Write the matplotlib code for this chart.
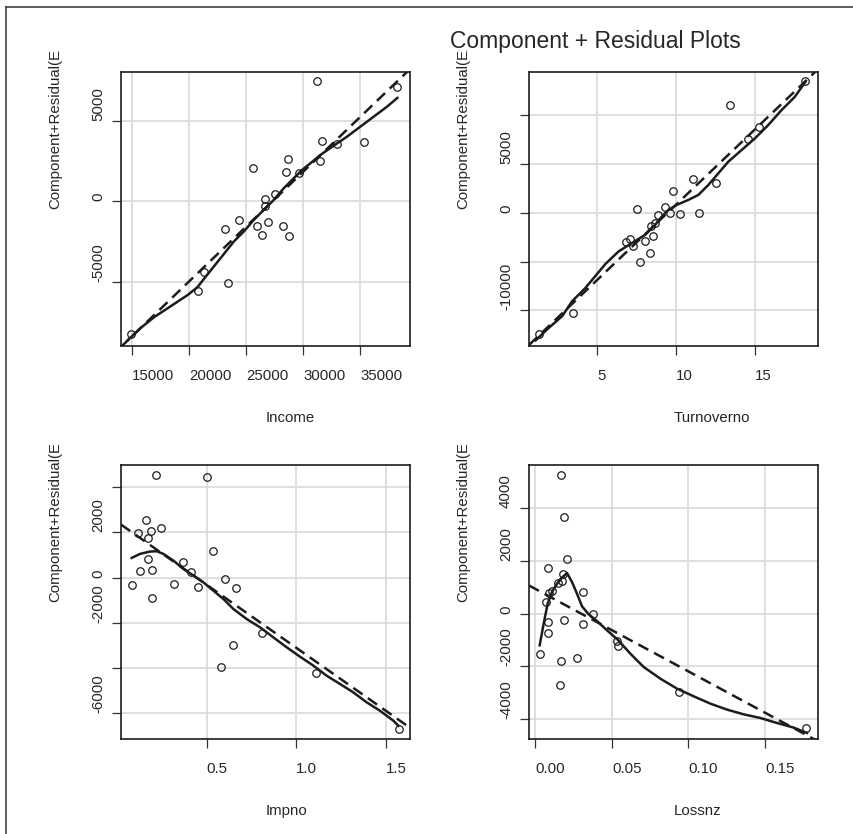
import matplotlib
matplotlib.use('Agg')
import matplotlib.pyplot as plt
from matplotlib.transforms import Bbox, TransformedBbox
from matplotlib.lines import Line2D
import numpy as np

plt.rcParams['font.family'] = ['Liberation Sans', 'DejaVu Sans']

W, H, DPI = 854, 834, 100

TITLE = "Component + Residual Plots"
YLABEL = "Component+Residual(Expenses)"

# ---------------- Panel 1: Income ----------------
income_x = [14910, 20775, 21271, 23401, 23110, 24364, 25561, 25969, 26407, 26611,
            26611, 26932, 27574, 28216, 28508, 28654, 28771, 29675, 31193, 31514,
            31689, 33002, 35336, 38283]
income_y = [-8226, -5529, -4397, -5076, -1700, -1186, 2046, -1556, -2071, 173,
            -280, -1268, 461, -1556, 1820, 2643, -2153, 1758, 7440, 2479,
            3755, 3549, 3693, 7069]
income_smooth_x = [14589, 15756, 16923, 18382, 19841, 20716, 21592, 22759, 23926, 24802,
                   25677, 26552, 27428, 28303, 29179, 29908, 30634, 31513, 32680, 33847,
                   35015, 36182, 37349, 38283]
income_smooth_y = [-8617, -7834, -7176, -6496, -5817, -5323, -4541, -3512, -2482, -1865,
                   -1144, -527, 91, 811, 1429, 1943, 2355, 2870, 3446, 4002,
                   4620, 5237, 5855, 6410]
income_fit = (-18519, 0.6782)   # intercept, slope

# ---------------- Panel 2: Turnoverno ----------------
turn_x = [1.337, 3.484, 6.853, 7.105, 7.274, 7.547, 7.716, 8.032, 8.326, 8.389,
          8.558, 8.684, 8.874, 9.316, 9.632, 9.779, 10.242, 11.063, 11.463, 12.537,
          13.442, 14.537, 15.274, 18.2]
turn_y = [-12436, -10323, -2998, -2726, -3373, 375, -5008, -2896, -4088, -1397,
          -2351, -1056, -273, 613, -34, 2215, -170, 3441, -34, 3100,
          11038, 7529, 8834, 13492]
turn_smooth_x = [1.105, 1.947, 2.789, 3.421, 4.263, 5.526, 6.368, 7.211, 8.053, 8.684,
                 9.105, 9.526, 10.053, 10.789, 11.421, 12.053, 12.684, 13.316, 14.158, 15.0,
                 15.842, 16.684, 17.526, 18.2]
turn_smooth_y = [-13083, -11788, -10596, -9063, -7700, -5247, -3952, -3100, -2249, -1227,
                 -375, 307, 818, 1329, 1840, 2862, 4054, 5247, 6439, 7632,
                 8994, 10528, 11890, 13424]
turn_fit = (-14617, 1544.7)

# ---------------- Panel 3: Impno ----------------
imp_x = [0.215, 0.5, 0.159, 0.118, 0.187, 0.243, 0.174, 0.534, 0.174, 0.370,
         0.127, 0.195, 0.412, 0.081, 0.316, 0.453, 0.602, 0.662, 0.195, 0.811,
         0.649, 0.582, 1.109, 1.573]
imp_y = [4553, 4449, 2557, 1966, 2069, 2188, 1759, 1168, 843, 680,
         310, 355, 266, -340, -281, -399, -74, -458, -887, -2454,
         -2971, -3947, -4213, -6696]
imp_smooth_x = [0.081, 0.128, 0.183, 0.221, 0.258, 0.314, 0.370, 0.426, 0.481, 0.537,
                0.593, 0.649, 0.723, 0.798, 0.872, 0.947, 1.021, 1.096, 1.170, 1.245,
                1.319, 1.394, 1.468, 1.543, 1.571]
imp_smooth_y = [872, 1050, 1153, 1168, 1050, 754, 384, 89, -207, -577,
                -946, -1390, -1833, -2203, -2646, -3090, -3503, -3902, -4346, -4715,
                -5085, -5528, -5898, -6341, -6563]
imp_fit = (2469, -5577)

# ---------------- Panel 4: Lossnz ----------------
loss_x = [0.01676, 0.01853, 0.02088, 0.00827, 0.01827, 0.0150, 0.01761, 0.01069, 0.00912, 0.00677,
          0.03113, 0.03766, 0.00847, 0.01853, 0.03113, 0.00827, 0.00285, 0.01697, 0.02742, 0.01611,
          0.05354, 0.05399, 0.09403, 0.1768]
loss_y = [5265, 3652, 2061, 1731, 1504, 1174, 1250, 871, 773, 432,
          811, -11, -303, -250, -379, -742, -1538, -1803, -1667, -2689,
          -1034, -1235, -2977, -4341]
loss_smooth_x = [0.00283, 0.00544, 0.00805, 0.01088, 0.01415, 0.01741, 0.02068, 0.02394, 0.02721, 0.03048,
                 0.03483, 0.04027, 0.0468, 0.05377, 0.06204, 0.07075, 0.08163, 0.09251, 0.1034, 0.1143,
                 0.1252, 0.136, 0.1469, 0.1578, 0.1687, 0.1774]
loss_smooth_y = [-1199, -379, 379, 820, 1136, 1363, 1539, 1199, 757, 278,
                 -25, -278, -631, -984, -1514, -2019, -2461, -2839, -3129, -3407,
                 -3634, -3811, -3949, -4139, -4315, -4517]
loss_fit = (937, -31246)

panels = [
    dict(name="Income", x=income_x, y=income_y, sx=income_smooth_x, sy=income_smooth_y, fit=income_fit,
         box=(121, 72, 410, 346), xlim=(14005, 39392), ylim=(-8967, 8016),
         xticks=[15000, 20000, 25000, 30000, 35000],
         xticklabels=["15000", "20000", "25000", "30000", "35000"],
         yticks=[-5000, 0, 5000], yticklabels=["-5000", "0", "5000"], cliplen=158),
    dict(name="Turnoverno", x=turn_x, y=turn_y, sx=turn_smooth_x, sy=turn_smooth_y, fit=turn_fit,
         box=(529, 72, 818, 346), xlim=(0.684, 19.0), ylim=(-13662, 14446),
         xticks=[5, 10, 15], xticklabels=["5", "10", "15"],
         yticks=[-10000, -5000, 0, 5000, 10000],
         yticklabels=["-10000", "", "0", "5000", ""], cliplen=159),
    dict(name="Impno", x=imp_x, y=imp_y, sx=imp_smooth_x, sy=imp_smooth_y, fit=imp_fit,
         box=(121, 465, 410, 739), xlim=(0.0214, 1.636), ylim=(-7153, 4989),
         xticks=[0.5, 1.0, 1.5], xticklabels=["0.5", "1.0", "1.5"],
         yticks=[-6000, -4000, -2000, 0, 2000, 4000],
         yticklabels=["-6000", "", "-2000", "0", "2000", ""], cliplen=157),
    dict(name="Lossnz", x=loss_x, y=loss_y, sx=loss_smooth_x, sy=loss_smooth_y, fit=loss_fit,
         box=(529, 465, 818, 739), xlim=(-0.00414, 0.1846), ylim=(-4746, 5629),
         xticks=[0.0, 0.05, 0.10, 0.15], xticklabels=["0.00", "0.05", "0.10", "0.15"],
         yticks=[-4000, -2000, 0, 2000, 4000],
         yticklabels=["-4000", "-2000", "0", "2000", "4000"], cliplen=157),
]

fig = plt.figure(figsize=(W / DPI, H / DPI), dpi=DPI)
fig.patch.set_facecolor('white')

INK = '#1c1c1c'
TXT = '#262626'
FS = 10.8

for p in panels:
    x0, y0, x1, y1 = p['box']
    rect = [x0 / W, 1 - y1 / H, (x1 - x0) / W, (y1 - y0) / H]
    ax = fig.add_axes(rect)
    ax.set_xlim(p['xlim'])
    ax.set_ylim(p['ylim'])
    ax.set_xticks(p['xticks'])
    ax.set_xticklabels(p['xticklabels'], ha='left')
    ax.set_yticks(p['yticks'])
    ax.set_yticklabels(p['yticklabels'], rotation=90, va='bottom', ha='right')
    ax.grid(True, color='#d9d9d9', lw=1.2)
    ax.set_axisbelow(True)
    ax.tick_params(length=6.5, width=0.9, color='#333333', labelsize=FS, labelcolor=TXT)
    ax.tick_params(axis='x', pad=10)
    ax.tick_params(axis='y', pad=5)
    for s in ax.spines.values():
        s.set_linewidth(1.2)
        s.set_color(INK)

    ax.plot(p['x'], p['y'], 'o', mfc='none', mec=INK, ms=5.4, mew=0.9, zorder=3)
    a, b = p['fit']
    lx = np.array(p['xlim'])
    ax.plot(lx, a + b * lx, color=INK, lw=1.8, dashes=(4.5, 2.6), zorder=4)
    ax.plot(p['sx'], p['sy'], color=INK, lw=1.8, zorder=4)

    # x label, starting at the panel centre
    cx = (x0 + x1) / 2
    fig.text(cx / W, 1 - (y1 + 76) / H, p['name'], ha='left', va='baseline',
             fontsize=FS, color=TXT)

    # y label, starting at the panel centre and clipped (as in the reference)
    cy = (y0 + y1) / 2
    lab_right = x0 - 59
    t = fig.text(lab_right / W, 1 - cy / H, YLABEL, rotation=90, ha='right', va='bottom',
                 fontsize=FS, color=TXT)
    clip = TransformedBbox(Bbox.from_extents(0, 1 - cy / H - 0.01, 1, 1 - (cy - p['cliplen']) / H),
                           fig.transFigure)
    t.set_clip_on(True)
    t.set_clip_box(clip)

fig.text(450 / W, 1 - 48 / H, TITLE, ha='left', va='baseline', fontsize=16.5, color=TXT)

# outer frame lines (left and top)
fig.add_artist(Line2D([6 / W, 6 / W], [0, 1 - 6.5 / H], transform=fig.transFigure,
                      color='#333333', lw=1.1))
fig.add_artist(Line2D([6 / W, 1], [1 - 6.5 / H, 1 - 6.5 / H], transform=fig.transFigure,
                      color='#333333', lw=1.1))

fig.savefig('out.png', dpi=DPI)
